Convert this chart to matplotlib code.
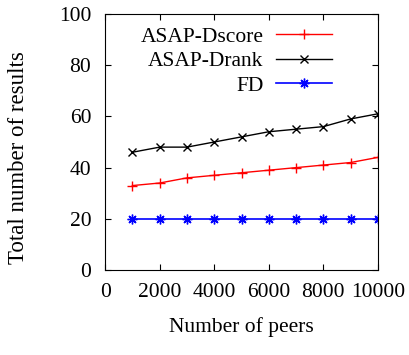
import matplotlib
matplotlib.use("Agg")
import matplotlib.pyplot as plt

plt.rcParams['font.family'] = ['Liberation Serif', 'DejaVu Serif']
plt.rcParams['font.size'] = 15.5

# Data
peers = [1000, 2000, 3000, 4000, 5000, 6000, 7000, 8000, 9000, 10000]
dscore = [33, 34, 36, 37, 38, 39, 40, 41, 42, 44]
drank = [46, 48, 48, 50, 52, 54, 55, 56, 59, 61]
fd = [20, 20, 20, 20, 20, 20, 20, 20, 20, 20]

fig = plt.figure(figsize=(4.09, 3.55), dpi=100)
ax = fig.add_axes([0.257, 0.239, 0.667, 0.722])

ax.plot(peers, dscore, color='red', marker='+', markersize=7, linewidth=1, label='ASAP-Dscore')
ax.plot(peers, drank, color='black', marker='x', markersize=6, linewidth=1, label='ASAP-Drank')
ax.plot(peers, fd, color='blue', marker=(8, 2, 0), markersize=7, linewidth=1.2, label='FD')

ax.set_xlim(0, 10000)
ax.set_ylim(0, 100)
ax.set_xticks(range(0, 10001, 2000))
ax.set_yticks(range(0, 101, 20))
ax.tick_params(direction='in', top=True, right=True, length=4)
ax.tick_params(axis='y', pad=10)
ax.tick_params(axis='x', pad=9)
ax.set_xlabel("Number of peers", labelpad=11)
ax.set_ylabel("Total number of results", fontsize=16.5)
ax.yaxis.set_label_coords(-0.28, 0.44)

ax.legend(loc='upper right', bbox_to_anchor=(0.88, 1.0), frameon=False, markerfirst=False,
          handlelength=2.6, labelspacing=0.2, borderaxespad=0.2, handletextpad=0.6)

plt.savefig("out.png", dpi=100)
plt.close()
